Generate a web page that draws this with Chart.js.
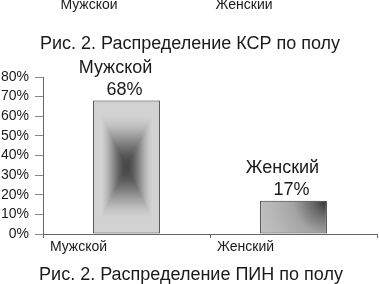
<!DOCTYPE html>
<html>
<head>
<meta charset="utf-8">
<script src="https://cdn.jsdelivr.net/npm/chart.js@4"></script>
<style>
  html, body { margin: 0; padding: 0; background: #fff; }
  #wrap { width: 379px; height: 284px; }
</style>
</head>
<body>
<div id="wrap"><canvas id="PIN_Chart" width="379" height="284"></canvas></div>
<script>
// categories and values (percent)
const categories = ["Мужской", "Женский"];
const shares = [68, 17];
const yMax = 80;
const yStep = 10;

// texts around the chart
const prevLabels = ["Мужской", "Женский"];
const captionTop = "Рис. 2. Распределение КСР по полу";
const captionBottom = "Рис. 2. Распределение ПИН по полу";

const FONT = '"Liberation Sans", Arial, sans-serif';
const INK = "#1a1a1a";
const BAR_PCT = 0.4;

// bar rectangle from the library scales
function barRect(chart, i) {
  const xs = chart.scales.x, ys = chart.scales.y;
  const cw = (chart.chartArea.right - chart.chartArea.left) / categories.length;
  const w = cw * BAR_PCT;
  const cx = xs.getPixelForValue(i);
  return {
    x0: cx - w / 2, x1: cx + w / 2,
    y0: ys.getPixelForValue(shares[i]), y1: ys.getPixelForValue(0),
  };
}

function smooth(x) {
  x = Math.max(0, Math.min(1, x));
  return x * x * (3 - 2 * x);
}

function barFill(c) {
  const chart = c.chart;
  if (!chart.chartArea) return "#bbb";
  const r = barRect(chart, c.dataIndex);
  if (c.dataIndex === 0) {
    // gradient "from centre": dark in the middle, light at the edges
    const off = document.createElement("canvas");
    off.width = chart.width; off.height = chart.height;
    const octx = off.getContext("2d");
    const x0 = Math.floor(r.x0), y0 = Math.floor(r.y0);
    const w = Math.ceil(r.x1) - x0, h = Math.ceil(r.y1) - y0;
    const img = octx.createImageData(w, h);
    const cx = w / 2, cy = h / 2;
    for (let j = 0; j < h; j++) {
      for (let k = 0; k < w; k++) {
        const t = Math.max(Math.abs(k + 0.5 - cx) / cx, Math.abs(j + 0.5 - cy) / cy);
        const g = Math.round(72 + 138 * smooth(t / 0.8));
        const p = (j * w + k) * 4;
        img.data[p] = g; img.data[p + 1] = g; img.data[p + 2] = g; img.data[p + 3] = 255;
      }
    }
    octx.putImageData(img, x0, y0);
    return chart.ctx.createPattern(off, "no-repeat");
  }
  // dark in the top-right corner, light grey elsewhere
  const rad = Math.hypot(r.x1 - r.x0, r.y1 - r.y0);
  const grad = chart.ctx.createRadialGradient(r.x1, r.y0, 0, r.x1, r.y0, rad);
  grad.addColorStop(0, "#2e2e2e");
  grad.addColorStop(0.18, "#666");
  grad.addColorStop(0.45, "#a4a4a4");
  grad.addColorStop(0.75, "#b8b8b8");
  grad.addColorStop(1, "#c2c2c2");
  return grad;
}

const textPlugin = {
  id: "texts",
  afterDatasetsDraw(chart) {
    const ctx = chart.ctx;
    const meta = chart.getDatasetMeta(0);
    ctx.save();
    ctx.fillStyle = INK;
    ctx.textAlign = "center";
    ctx.textBaseline = "middle";
    ctx.font = "18px " + FONT;
    meta.data.forEach(function (el, i) {
      ctx.fillText(categories[i], el.x - 11, el.y - 33);
      ctx.fillText(shares[i] + "%", el.x - 2, el.y - 11);
    });
    ctx.restore();
  },
  afterDraw(chart) {
    const ctx = chart.ctx;
    ctx.save();
    ctx.fillStyle = INK;
    ctx.textAlign = "center";
    ctx.textBaseline = "alphabetic";
    // cut labels of the figure above
    ctx.font = "14px " + FONT;
    ctx.fillText(prevLabels[0], 89, 9);
    ctx.fillText(prevLabels[1], 244, 9);
    // captions
    ctx.font = "18px " + FONT;
    ctx.fillText(captionTop, 190, 48.5);
    ctx.fillText(captionBottom, 191, 280);
    ctx.restore();
  },
};

new Chart(document.getElementById("PIN_Chart"), {
  type: "bar",
  data: {
    labels: categories,
    datasets: [
      {
        data: shares,
        backgroundColor: barFill,
        borderColor: "#333",
        borderWidth: 1,
        borderSkipped: false,
        categoryPercentage: 1,
        barPercentage: BAR_PCT,
      },
    ],
  },
  options: {
    responsive: false,
    animation: false,
    devicePixelRatio: 1,
    layout: { padding: { top: 77, right: 2, bottom: 0, left: 0 } },
    plugins: {
      legend: { display: false },
      tooltip: { enabled: false },
    },
    scales: {
      x: {
        afterFit: function (s) { s.height = 50; },
        border: { color: "#666", width: 1 },
        grid: { display: true, drawOnChartArea: false, offset: true, tickLength: 4, color: "#666" },
        ticks: {
          color: INK,
          padding: 1,
          labelOffset: -48,
          font: { size: 14, family: FONT },
        },
      },
      y: {
        min: 0,
        max: yMax,
        afterFit: function (s) { s.width = 43; },
        border: { color: "#666", width: 1 },
        grid: { display: true, drawOnChartArea: false, tickLength: 8, color: "#888" },
        ticks: {
          stepSize: yStep,
          autoSkip: false,
          color: INK,
          padding: 6,
          font: { size: 14, family: FONT, lineHeight: 1 },
          callback: function (v) { return v + "%"; },
        },
      },
    },
  },
  plugins: [textPlugin],
});
</script>
</body>
</html>
